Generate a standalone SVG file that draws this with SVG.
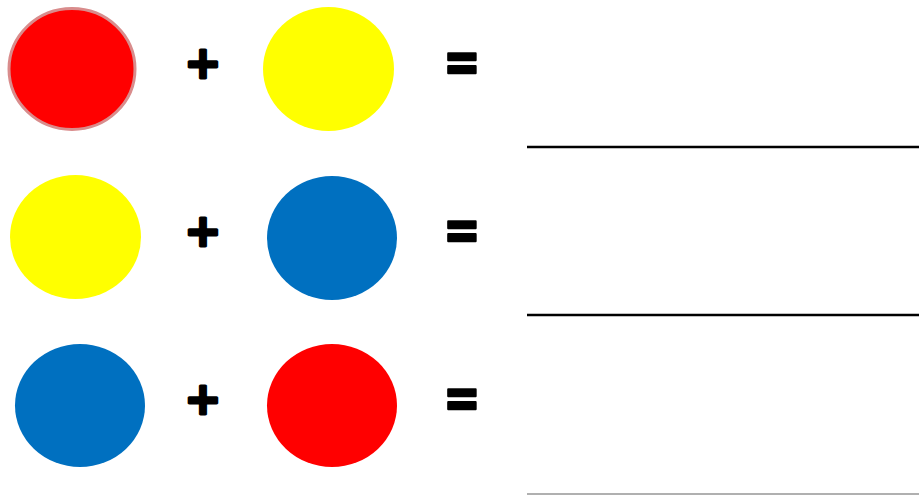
<svg xmlns="http://www.w3.org/2000/svg" width="919" height="496" viewBox="0 0 919 496">
<style>
.red{fill:#ff0000}
.yellow{fill:#ffff00}
.blue{fill:#0070c0}
.op{font-family:"DejaVu Sans",sans-serif;font-weight:bold;font-size:44px;fill:#000;stroke:#000;stroke-width:3;stroke-linejoin:round;text-anchor:middle}
.eq{stroke-width:2}
.ans{stroke:#000;stroke-width:2.5;fill:none}
</style>
<rect width="919" height="496" fill="#fff"/>
<g id="row1">
<g id="r1-red"><ellipse class="red" cx="72" cy="69" rx="63" ry="60.5" stroke="#d98c8c" stroke-width="3"/></g>
<g id="r1-plus"><text class="op" x="203" y="78">+</text></g>
<g id="r1-yellow"><ellipse class="yellow" cx="328.5" cy="69" rx="65.5" ry="62"/></g>
<g id="r1-eq"><text class="op eq" transform="translate(462 81) scale(1 1.3)">=</text></g>
</g>
<g id="row2">
<g id="r2-yellow"><ellipse class="yellow" cx="75.5" cy="237" rx="65.5" ry="62"/></g>
<g id="r2-plus"><text class="op" x="203" y="246">+</text></g>
<g id="r2-blue"><ellipse class="blue" cx="332" cy="238" rx="65" ry="62"/></g>
<g id="r2-eq"><text class="op eq" transform="translate(462 249) scale(1 1.3)">=</text></g>
</g>
<g id="row3">
<g id="r3-blue"><ellipse class="blue" cx="80" cy="405.5" rx="65" ry="61.5"/></g>
<g id="r3-plus"><text class="op" x="203" y="414">+</text></g>
<g id="r3-red"><ellipse class="red" cx="332" cy="405.5" rx="65" ry="61.5"/></g>
<g id="r3-eq"><text class="op eq" transform="translate(462 417) scale(1 1.3)">=</text></g>
</g>
<g id="lines">
<line class="ans" x1="527" y1="147" x2="919" y2="147"/>
<line class="ans" x1="527" y1="315" x2="919" y2="315"/>
<line x1="527" y1="494" x2="919" y2="494" stroke="#b0b0b0" stroke-width="2"/>
</g>
</svg>
